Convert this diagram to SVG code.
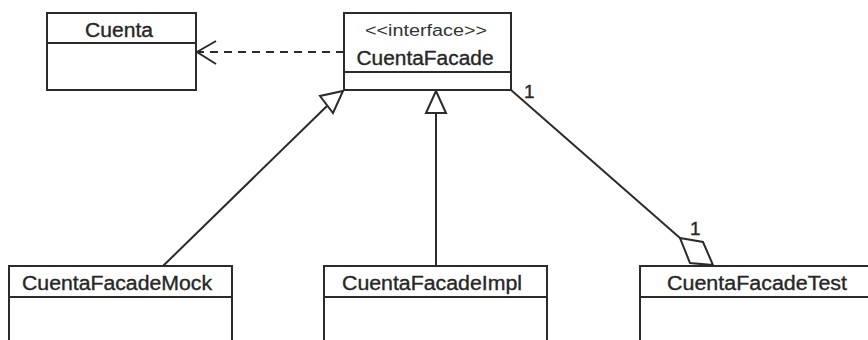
<svg xmlns="http://www.w3.org/2000/svg" width="868" height="340" viewBox="0 0 868 340">
  <style>
    .box { fill: #ffffff; stroke: #2b2b2b; stroke-width: 2; }
    .div { stroke: #2b2b2b; stroke-width: 2; fill: none; }
    .name { font-family: "Liberation Sans", Arial, sans-serif; font-size: 20px; fill: #262626; stroke: #262626; stroke-width: 0.35; text-anchor: middle; }
    .stereo { font-family: "Liberation Sans", Arial, sans-serif; font-size: 16px; fill: #333333; text-anchor: middle; }
    .mult { font-family: "Liberation Sans", Arial, sans-serif; font-size: 19px; fill: #262626; stroke: #262626; stroke-width: 0.35; }
    .edge { stroke: #2b2b2b; stroke-width: 2; fill: none; }
    .dash { stroke-dasharray: 8 6; }
    .head { stroke: #2b2b2b; stroke-width: 2; fill: #ffffff; stroke-linejoin: miter; }
  </style>
  <rect width="868" height="340" fill="#ffffff"/>

  <!-- connectors -->
  <g id="connectors">
    <!-- dependency: CuentaFacade uses Cuenta -->
    <line class="edge dash" x1="344" y1="52" x2="198" y2="52"/>
    <polyline class="edge" points="216,41 197,52 216,64"/>
    <!-- realization: CuentaFacadeMock -->
    <line class="edge" x1="163" y1="266" x2="327" y2="106"/>
    <polygon class="head" points="343,91 333,113 320,96"/>
    <!-- realization: CuentaFacadeImpl -->
    <line class="edge" x1="436" y1="266" x2="436" y2="113"/>
    <polygon class="head" points="436,91 446,113 426,113"/>
    <!-- aggregation: CuentaFacadeTest holds CuentaFacade -->
    <line class="edge" x1="511" y1="90" x2="680" y2="238"/>
    <polygon class="head" points="680,238 703,242 713,265 690,263"/>
    <text class="mult" x="524" y="98">1</text>
    <text class="mult" x="690" y="235">1</text>
  </g>

  <g id="Cuenta">
    <rect class="box" x="47" y="13" width="149" height="77"/>
    <line class="div" x1="47" y1="43" x2="196" y2="43"/>
    <text class="name" x="119" y="37" textLength="68" lengthAdjust="spacingAndGlyphs">Cuenta</text>
  </g>

  <g id="CuentaFacade">
    <rect class="box" x="344" y="13" width="167" height="77"/>
    <line class="div" x1="344" y1="72" x2="511" y2="72"/>
    <text class="stereo" x="426" y="36" textLength="122" lengthAdjust="spacingAndGlyphs">&lt;&lt;interface&gt;&gt;</text>
    <text class="name" x="425" y="65" textLength="137" lengthAdjust="spacingAndGlyphs">CuentaFacade</text>
  </g>

  <g id="CuentaFacadeMock">
    <rect class="box" x="9" y="266" width="223" height="90"/>
    <line class="div" x1="9" y1="297" x2="232" y2="297"/>
    <text class="name" x="117" y="290" textLength="190" lengthAdjust="spacingAndGlyphs">CuentaFacadeMock</text>
  </g>

  <g id="CuentaFacadeImpl">
    <rect class="box" x="324" y="266" width="223" height="90"/>
    <line class="div" x1="324" y1="297" x2="547" y2="297"/>
    <text class="name" x="432" y="290" textLength="180" lengthAdjust="spacingAndGlyphs">CuentaFacadeImpl</text>
  </g>

  <g id="CuentaFacadeTest">
    <rect class="box" x="640" y="266" width="240" height="90"/>
    <line class="div" x1="640" y1="297" x2="880" y2="297"/>
    <text class="name" x="757" y="290" textLength="180" lengthAdjust="spacingAndGlyphs">CuentaFacadeTest</text>
  </g>
</svg>
